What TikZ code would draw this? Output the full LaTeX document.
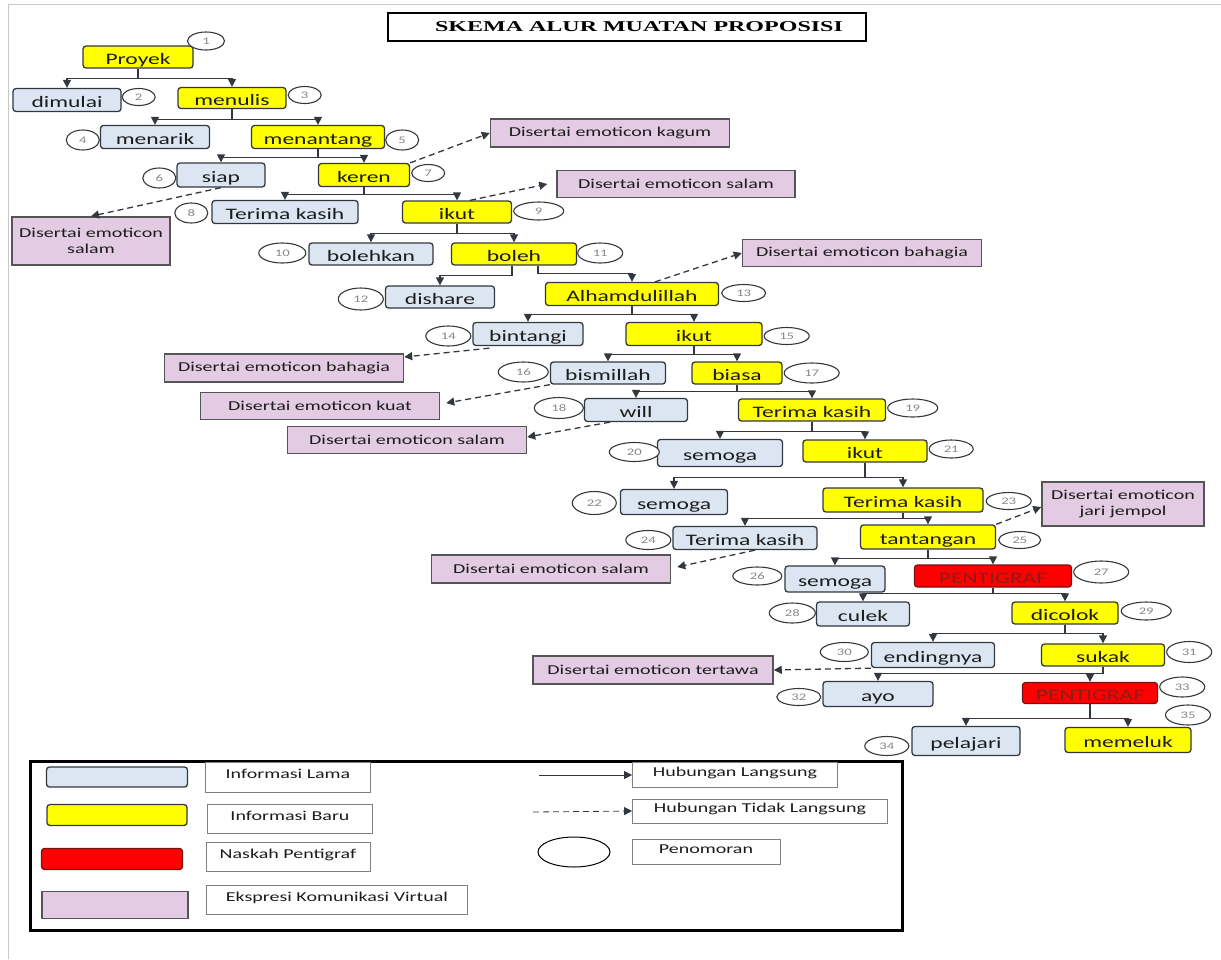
\documentclass[tikz,border=0pt]{standalone}
\usepackage{fontspec}
\usepackage{tikz}
\usetikzlibrary{positioning,calc,shapes.geometric,arrows.meta}
\newfontfamily\boxfont{Carlito}[FakeStretch=1.47]
\newfontfamily\headfont{Liberation Serif}[FakeStretch=1.6]
\newcommand{\dis}{Disertai emoticon}
\definecolor{oldfill}{HTML}{DCE6F2}
\definecolor{newfill}{HTML}{FFFF00}
\definecolor{ptgfill}{HTML}{FF0000}
\definecolor{emofill}{HTML}{E3CCE3}
\definecolor{boxline}{HTML}{33383F}
\definecolor{ptgline}{HTML}{7A1010}
\definecolor{emoline}{HTML}{555555}
\definecolor{ink}{HTML}{1C1C1C}
\definecolor{numink}{HTML}{888888}
\definecolor{ptgink}{HTML}{8E1B1B}
\definecolor{pageline}{HTML}{C8C8C8}
\tikzset{
  box/.style={rectangle, rounded corners=3pt, draw=boxline, line width=1.3pt, inner sep=0pt,
    minimum height=23pt, text height=15pt, text depth=0pt, text=ink,
    font=\boxfont\fontsize{16}{18}\selectfont},
  old/.style={box, fill=oldfill},
  new/.style={box, fill=newfill},
  ptg/.style={box, fill=ptgfill, draw=ptgline, text=ptgink},
  emo/.style={rectangle, draw=emoline, line width=1.5pt, fill=emofill, inner sep=0pt,
    minimum width=239pt, minimum height=27pt, align=center, text=ink,
    font=\boxfont\fontsize{13.6}{16}\selectfont},
  num/.style={ellipse, draw=boxline, line width=1.1pt, fill=white, inner sep=0pt,
    minimum width=46pt, minimum height=19pt, text=numink, font=\boxfont\fontsize{10}{12}\selectfont},
  nums/.style={num, minimum width=33pt},
  link/.style={draw=boxline, line width=1.3pt, -{Triangle[length=8pt,width=8pt]}},
  dlink/.style={link, dash pattern=on 6pt off 4pt},
  legtext/.style={rectangle, draw=gray, line width=0.8pt, inner sep=0pt, text=ink,
    text height=7pt, text depth=5pt, font=\boxfont\fontsize{13.6}{16}\selectfont},
}

\begin{document}
\begin{tikzpicture}[x=1pt,y=-1pt]
	\useasboundingbox (0,0) rectangle (1221,959);
	\draw[pageline, line width=1pt] (8,959) -- (8,4) -- (1221,4);

	% title
	\node[draw, line width=2.5pt, minimum width=478pt, minimum height=28pt] (ttlbox) at (627,27) {};
	\node[font=\headfont\bfseries\fontsize{15}{17}\selectfont] (ttl) at (639,27) {SKEMA ALUR MUATAN PROPOSISI};

	% propositions
	\node[new, minimum width=110pt, minimum height=22pt] (pr) at (138,57) {Proyek};
	\node[old, minimum width=108pt] (dm) at (67,100) {dimulai};
	\node[new, minimum width=108pt, minimum height=21pt] (mn) at (232,98) {menulis};
	\node[old, minimum width=109pt] (mk) at (155,137) {menarik};
	\node[new, minimum width=133pt] (mt) at (318,137) {menantang};
	\node[old, minimum width=88pt, minimum height=24pt] (sp) at (221,175) {siap};
	\node[new, minimum width=91pt] (kr) at (364,175) {keren};
	\node[old, minimum width=146pt] (tk8) at (285,212) {Terima kasih};
	\node[new, minimum width=109pt, minimum height=22pt] (ik9) at (457,212) {ikut};
	\node[old, minimum width=124pt, minimum height=22pt] (bk) at (371,254) {bolehkan};
	\node[new, minimum width=125pt, minimum height=22pt] (bl) at (514,254) {boleh};
	\node[old, minimum width=109pt, minimum height=22pt] (ds) at (440,297) {dishare};
	\node[new, minimum width=173pt] (ah) at (632,294) {Alhamdulillah};
	\node[old, minimum width=110pt] (bt) at (528,334) {bintangi};
	\node[new, minimum width=136pt] (ik15) at (694,334) {ikut};
	\node[old, minimum width=115pt, minimum height=22pt] (bm) at (608,373) {bismillah};
	\node[new, minimum width=90pt, minimum height=22pt] (bs) at (737,373) {biasa};
	\node[old, minimum width=103pt] (wl) at (636,410) {will};
	\node[new, minimum width=147pt, minimum height=22pt] (tk19) at (812,410) {Terima kasih};
	\node[old, minimum width=125pt, minimum height=27pt] (sm20) at (720,453) {semoga};
	\node[new, minimum width=124pt, minimum height=22pt] (ik21) at (865,451) {ikut};
	\node[old, minimum width=107pt, minimum height=25pt] (sm22) at (674,502) {semoga};
	\node[new, minimum width=160pt, minimum height=24pt] (tk23) at (903,500) {Terima kasih};
	\node[old, minimum width=144pt] (tk24) at (745,538) {Terima kasih};
	\node[new, minimum width=135pt, minimum height=24pt] (tt) at (928,537) {tantangan};
	\node[old, minimum width=100pt, minimum height=26pt] (sm26) at (835,579) {semoga};
	\node[ptg, minimum width=157pt, minimum height=22pt] (pg27) at (993,576) {PENTIGRAF};
	\node[old, minimum width=93pt, minimum height=24pt] (cl) at (863,614) {culek};
	\node[new, minimum width=106pt, minimum height=22pt] (dc) at (1065,613) {dicolok};
	\node[old, minimum width=123pt, minimum height=25pt] (en) at (933,655) {endingnya};
	\node[new, minimum width=123pt, minimum height=22pt] (sk) at (1103,655) {sukak};
	\node[old, minimum width=110pt, minimum height=25pt] (ay) at (878,694) {ayo};
	\node[ptg, minimum width=135pt, minimum height=21pt] (pg33) at (1090,693) {PENTIGRAF};
	\node[old, minimum width=108pt, minimum height=29pt] (pl) at (966,741) {pelajari};
	\node[new, minimum width=126pt, minimum height=25pt] (mm) at (1128,740) {memeluk};

	% numbering
	\node[nums, minimum width=37pt, minimum height=18pt] (n1) at (206,41) {1};
	\node[nums, minimum height=17pt, right=0pt of dm, yshift=3pt] (n2) {2};
	\node[nums, minimum height=17pt, right=1pt of mn, yshift=3pt] (n3) {3};
	\node[nums, minimum height=20pt, left=0pt of mk, yshift=-3pt] (n4) {4};
	\node[nums, minimum height=20pt, right=0pt of mt, yshift=-3pt] (n5) {5};
	\node[nums, minimum height=20pt, left=0pt of sp, yshift=-3pt] (n6) {6};
	\node[nums, minimum height=17pt, right=1pt of kr, yshift=2pt] (n7) {7};
	\node[nums, minimum height=20pt, left=3pt of tk8, yshift=-1pt] (n8) {8};
	\node[num, minimum width=50pt, minimum height=18pt, right=1pt of ik9, yshift=1pt] (n9) {9};
	\node[num, minimum width=47pt, minimum height=20pt, left=2pt of bk, yshift=1pt] (n10) {10};
	\node[num, minimum width=45pt, minimum height=20pt, right=0pt of bl, yshift=1pt] (n11) {11};
	\node[num, minimum width=45pt, minimum height=22pt, left=1pt of ds, yshift=-2pt] (n12) {12};
	\node[num, minimum width=44pt, minimum height=17pt, right=2pt of ah, yshift=1pt] (n13) {13};
	\node[num, minimum width=45pt, minimum height=20pt, left=1pt of bt, yshift=-2pt] (n14) {14};
	\node[num, minimum width=45pt, minimum height=17pt, right=1pt of ik15, yshift=-2pt] (n15) {15};
	\node[num, minimum width=50pt, minimum height=20pt, left=1pt of bm, yshift=1pt] (n16) {16};
	\node[num, minimum width=55pt, minimum height=20pt, right=1pt of bs] (n17) {17};
	\node[num, minimum width=49pt, minimum height=21pt, left=0pt of wl, yshift=2pt] (n18) {18};
	\node[num, minimum width=50pt, minimum height=18pt, right=1pt of tk19, yshift=2pt] (n19) {19};
	\node[num, minimum width=50pt, minimum height=19pt, left=-3pt of sm20, yshift=1pt] (n20) {20};
	\node[num, minimum width=44pt, minimum height=18pt, right=1pt of ik21, yshift=2pt] (n21) {21};
	\node[num, minimum width=44pt, minimum height=23pt, left=3pt of sm22, yshift=-1pt] (n22) {22};
	\node[num, minimum width=45pt, minimum height=17pt, right=2pt of tk23, yshift=-1pt] (n23) {23};
	\node[num, minimum width=45pt, minimum height=19pt, left=1pt of tk24, yshift=-2pt] (n24) {24};
	\node[num, minimum width=42pt, minimum height=17pt, right=2pt of tt, yshift=-3pt] (n25) {25};
	\node[num, minimum width=49pt, minimum height=18pt, left=2pt of sm26, yshift=3pt] (n26) {26};
	\node[num, minimum width=55pt, minimum height=22pt, right=1pt of pg27, yshift=4pt] (n27) {27};
	\node[num, minimum width=46pt, minimum height=20pt, left=0pt of cl, yshift=1pt] (n28) {28};
	\node[num, minimum width=50pt, minimum height=18pt, right=2pt of dc, yshift=2pt] (n29) {29};
	\node[num, minimum width=48pt, minimum height=19pt, left=2pt of en, yshift=3pt] (n30) {30};
	\node[num, minimum width=45pt, minimum height=21pt, right=1pt of sk, yshift=3pt] (n31) {31};
	\node[num, minimum width=44pt, minimum height=17pt, left=1pt of ay, yshift=-3pt] (n32) {32};
	\node[num, minimum width=45pt, minimum height=20pt, right=1pt of pg33, yshift=6pt] (n33) {33};
	\node[num, minimum width=44pt, minimum height=19pt, left=2pt of pl, yshift=-5pt] (n34) {34};
	\node[num, minimum width=45pt, minimum height=20pt] (n35) at (1188,715) {35};

	% expressions
	\node[emo, minimum width=158pt, minimum height=48pt] (pk1) at (91,241) {\dis\\salam};
	\node[emo, minimum height=28pt] (pk2) at (610,133) {\dis{} kagum};
	\node[emo, minimum width=238pt] (pk3) at (676,184) {\dis{} salam};
	\node[emo] (pk4) at (862,253) {\dis{} bahagia};
	\node[emo, minimum height=28pt] (pk5) at (284,368) {\dis{} bahagia};
	\node[emo] (pk6) at (320,406) {\dis{} kuat};
	\node[emo] (pk7) at (407,440) {\dis{} salam};
	\node[emo, minimum height=28pt] (pk8) at (551,569) {\dis{} salam};
	\node[emo, minimum width=162pt, minimum height=44pt] (pk9) at (1123,504) {\dis\\jari jempol};
	\node[emo, minimum width=240pt, minimum height=28pt] (pk10) at (653,670) {\dis{} tertawa};

	% direct links
	\draw[link] (pr.south) -- ++(0,10) -| (dm.north);
	\draw[link] (pr.south) -- ++(0,10) -| (mn.north);
	\draw[link] (mn.south) -- ++(0,10) -| (mk.north);
	\draw[link] (mn.south) -- ++(0,10) -| (mt.north);
	\draw[link] (mt.south) -- ++(0,8) -| (sp.north);
	\draw[link] (mt.south) -- ++(0,8) -| (kr.north);
	\draw[link] (kr.south) -- ++(0,7) -| (tk8.north);
	\draw[link] (kr.south) -- ++(0,7) -| (ik9.north);
	\draw[link] (ik9.south) -- ++(0,10) -| (bk.north);
	\draw[link] (ik9.south) -- ++(0,10) -| (bl.north);
	\draw[link] ($(bl.south)+(-2,0)$) -- ++(0,10) -| (ds.north);
	\draw[link] ($(bl.south)+(24,0)$) -- ++(0,8) -| (ah.north);
	\draw[link] (ah.south) -- ++(0,8) -| (bt.north);
	\draw[link] (ah.south) -- ++(0,8) -| (ik15.north);
	\draw[link] (ik15.south) -- ++(0,8) -| (bm.north);
	\draw[link] (ik15.south) -- ++(0,8) -| (bs.north);
	\draw[link] (bs.south) -- ++(0,7) -| (wl.north);
	\draw[link] (bs.south) -- ++(0,7) -| (tk19.north);
	\draw[link] (tk19.south) -- ++(0,10) -| (sm20.north);
	\draw[link] (tk19.south) -- ++(0,10) -| (ik21.north);
	\draw[link] (ik21.south) -- ++(0,15) -| (sm22.north);
	\draw[link] (ik21.south) -- ++(0,15) -| (tk23.north);
	\draw[link] (tk23.south) -- ++(0,6) -| (tk24.north);
	\draw[link] (tk23.south) -- ++(0,6) -| (tt.north);
	\draw[link] (tt.south) -- ++(0,9) -| (sm26.north);
	\draw[link] (tt.south) -- ++(0,9) -| (pg27.north);
	\draw[link] (pg27.south) -- ++(0,6) -| (cl.north);
	\draw[link] (pg27.south) -- ++(0,6) -| (dc.north);
	\draw[link] (dc.south) -- ++(0,9) -| (en.north);
	\draw[link] (dc.south) -- ++(0,9) -| (sk.north);
	\draw[link] (sk.south) -- ++(0,7) -| (ay.north);
	\draw[link] (sk.south) -- ++(0,7) -| (pg33.north);
	\draw[link] (pg33.south) -- ++(0,14) -| (pl.north);
	\draw[link] (pg33.south) -- ++(0,14) -| (mm.north);

	% indirect links
	\draw[dlink] (sp.south) -- (pk1.north);
	\draw[dlink] (kr.north east) -- (pk2.west);
	\draw[dlink] ($(ik9.north)+(13,0)$) -- ([xshift=-9pt]pk3.west);
	\draw[dlink] ($(ah.north)+(23,0)$) -- (pk4.west);
	\draw[dlink] ($(bt.south west)+(17,2)$) -- ([yshift=11pt]pk5.east);
	\draw[dlink] (bm.south west) -- ([xshift=6pt,yshift=3pt]pk6.east);
	\draw[dlink] ($(wl.south)+(-26,0)$) -- ([yshift=3pt]pk7.east);
	\draw[dlink] ($(tk24.south)+(10,0)$) -- ([xshift=6pt,yshift=2pt]pk8.east);
	\draw[dlink] (tt.north east) -- ([yshift=-3pt]pk9.west);
	\draw[dlink] (en.south west) -- (pk10.east);

	% legend
	\draw[line width=3pt] (30,761) rectangle (902,930);
	\node[old, minimum width=141pt, minimum height=20pt] (sw1) at (117,777) {};
	\node[new, minimum width=140pt, minimum height=21pt] (sw2) at (117,815) {};
	\node[ptg, minimum width=141pt, minimum height=21pt] (sw3) at (112,859) {};
	\node[emo, minimum width=146pt] (sw4) at (115,905) {};
	\node[legtext, minimum width=165pt, minimum height=30pt] (lt1) at (288,777) {Informasi Lama};
	\node[legtext, minimum width=165pt, minimum height=29pt] (lt2) at (290,819) {Informasi Baru};
	\node[legtext, minimum width=164pt, minimum height=29pt] (lt3) at (288,857) {Naskah Pentigraf};
	\node[legtext, minimum width=261pt, minimum height=29pt] (lt4) at (337,900) {Ekspresi Komunikasi Virtual};
	\node[legtext, minimum width=205pt, minimum height=25pt] (lt5) at (735,775) {Hubungan Langsung};
	\node[legtext, minimum width=255pt, minimum height=24pt] (lt6) at (760,811) {Hubungan Tidak Langsung};
	\node[legtext, minimum width=148pt, minimum height=25pt] (lt7) at (706,852) {Penomoran};
	\node[ellipse, draw, line width=1pt, minimum width=72pt, minimum height=30pt] (el) at (574,852) {};
	\coordinate (ls) at (539,775);
	\coordinate (ld) at (533,812);
	\draw[link, line width=0.8pt] (ls) -- (lt5.west);
	\draw[dlink, line width=0.8pt] (ld) -- (lt6.west);
\end{tikzpicture}
\end{document}
